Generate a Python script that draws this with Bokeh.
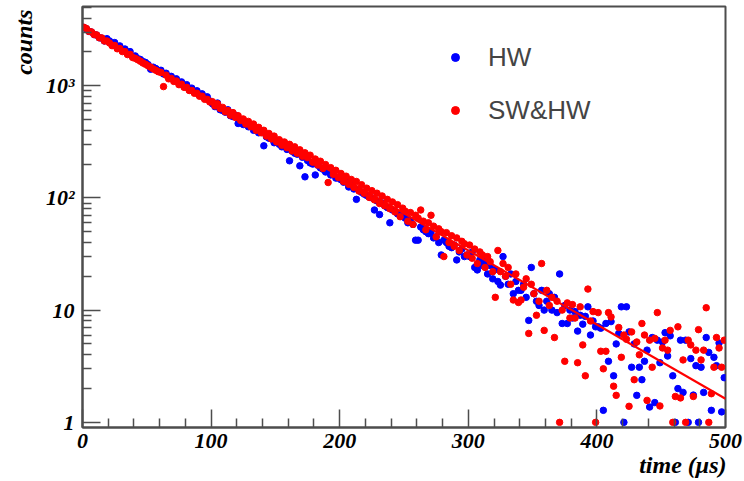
from bokeh.plotting import figure
from bokeh.models import FixedTicker, Legend, LegendItem, Title
from bokeh.embed import file_html
from bokeh.resources import INLINE

# bin centres (µs)
time_us = list(range(1, 500, 2))

# HW (blue)
hw = [
    3300, 3210, 3040, 3000, 2850, 2820, 2670, 2650, 2500, 2620,
    2500, 2330, 2420, 2180, 2260, 2060, 2120, 1930, 2010, 1820,
    1840, 1740, 1710, 1640, 1610, 1540, 1400, 1460, 1420, 1370,
    1370, 1270, 1290, 1190, 1210, 1120, 1150, 1050, 1080, 985,
    1020, 925, 950, 875, 900, 825, 845, 770, 795, 730,
    690, 650, 700, 610, 600, 580, 610, 540, 530, 545,
    460, 490, 450, 470, 430, 440, 400, 410, 380, 395,
    291, 350, 340, 335, 310, 315, 300, 285, 290, 270,
    214, 260, 250, 245, 193, 230, 154, 215, 205, 200,
    160, 195, 185, 180, 170, 175, 160, 163, 150, 150,
    145, 138, 140, 125, 130, 120, 97, 118, 112, 108,
    105, 102, 100, 78, 94, 71, 90, 85, 82, 60,
    78, 76, 72, 70, 68, 66, 60, 63, 58, 42,
    42, 55, 52, 50, 48, 50, 44, 45, 40, 31,
    42, 40, 37, 36, 38, 28, 33, 35, 30, 31,
    30, 33, 24, 22.8, 28, 25, 27, 21, 25, 19,
    23, 18, 16.7, 30, 20, 17, 21, 14, 18, 15,
    15, 17, 13, 8.1, 24, 14, 12, 11, 15, 10,
    12, 14, 10, 13, 9.5, 21, 7.6, 11, 7.6, 10,
    8.5, 9.7, 6.5, 9.0, 7.5, 8.8, 10.7, 6.0, 8.0, 7.1,
    7.1, 6.9, 1.28, 7.6, 3.5, 7.9, 2.6, 5.0, 6.2, 10.7,
    1.0, 10.7, 6.4, 3.1, 5.0, 1.74, 3.1, 2.4, 3.5, 4.4,
    1.37, 5.7, 1.5, 5.4, 3.4, 5.2, 6.3, 3.9, 5.9, 2.6,
    1.0, 2.0, 5.4, 1.85, 5.4, 1.0, 3.7, 1.75, 3.2, 1.0,
    3.1, 1.85, 5.7, 4.2, 1.28, 3.8, 3.2, 5.1, 1.24, 2.5,
]

# SW&HW (red)
swhw = [
    3310, 3230, 3040, 3010, 2850, 2830, 2670, 2660, 2500, 2500,
    2400, 2270, 2280, 2130, 2140, 2010, 2010, 1890, 1900, 1780,
    1750, 1700, 1650, 1590, 1550, 1500, 1460, 1410, 1370, 1330,
    1310, 980, 1240, 1150, 1160, 1090, 1100, 1020, 1030, 965,
    965, 905, 905, 855, 855, 805, 805, 755, 755, 715,
    720, 660, 690, 625, 640, 585, 600, 545, 575, 520,
    540, 490, 505, 455, 480, 430, 455, 400, 425, 380,
    400, 355, 375, 335, 355, 315, 330, 295, 315, 280,
    300, 262, 285, 250, 268, 235, 252, 228, 240, 208,
    222, 196, 212, 183, 198, 137, 186, 162, 176, 152,
    165, 140, 156, 132, 146, 124, 140, 115, 131, 110,
    122, 101, 116, 96, 110, 89, 104, 85, 97, 80,
    92, 75, 87, 68, 81, 76, 62, 74, 58, 70,
    66, 78, 62, 52, 60, 70, 56, 45, 53, 50,
    30, 49, 40, 46, 37, 44, 34, 41, 39, 31,
    38, 29, 35, 26, 33, 31, 24, 30, 27, 22,
    13, 34, 22, 26, 20, 24, 17, 12.3, 21, 11.7,
    12.3, 16, 19, 6.2, 17, 14, 9, 12, 26, 6.6,
    15, 11, 13, 5.7, 12, 1.0, 10, 3.5, 11.6, 8.5,
    11.2, 8.5, 3.4, 10.7, 4.9, 2.6, 15.4, 8, 9.7, 1.0,
    9.5, 4.3, 3.0, 4.3, 9.5, 8.7, 2.1, 1.74, 7.0, 3.8,
    6.0, 5.5, 1.39, 6.4, 2.4, 5.2, 4.0, 7.6, 6.0, 1.57,
    5.4, 3.1, 5.6, 9.5, 1.4, 4.6, 5.4, 4.4, 6.6, 1.0,
    1.7, 7.1, 1.65, 3.6, 1.0, 5.4, 4.9, 1.7, 4.4, 6.7,
    3.6, 4.4, 10.5, 1.0, 1.8, 3.1, 5.7, 4.6, 3.1, 5.4,
]

# exponential fit (end points)
fit_t = [0, 500]
fit_counts = [3273, 1.62]

x_major = [0, 100, 200, 300, 400, 500]
x_minor = [v for v in range(0, 501, 20) if v % 100 != 0]
y_major = [1, 10, 100, 1000]
y_major_labels = ["1", "10", "10\u00b2", "10\u00b3"]
y_minor = [m * d for d in (1, 10, 100, 1000) for m in range(2, 10) if m * d < 5070]

AX = "#4d4d4d"
SERIF = "Liberation Serif"

p = figure(width=744, height=481, x_range=(0, 500), y_range=(0.90, 5070),
           y_axis_type="log", output_backend="svg", toolbar_location=None,
           min_border_left=82, min_border_right=19, min_border_top=6,
           min_border_bottom=54)
p.xgrid.visible = False
p.ygrid.visible = False
p.outline_line_color = AX
p.outline_line_width = 2
p.background_fill_color = "white"
p.border_fill_color = "white"

p.xaxis.ticker = FixedTicker(ticks=x_major, minor_ticks=x_minor)
p.yaxis.ticker = FixedTicker(ticks=y_major, minor_ticks=y_minor)
p.yaxis.major_label_overrides = dict(zip(y_major, y_major_labels))

for ax in (p.xaxis[0], p.yaxis[0]):
    ax.axis_line_color = AX
    ax.axis_line_width = 2
    ax.major_tick_in = 18
    ax.major_tick_out = 0
    ax.minor_tick_in = 9
    ax.minor_tick_out = 0
    ax.major_tick_line_color = AX
    ax.minor_tick_line_color = AX
    ax.major_tick_line_width = 1.5
    ax.minor_tick_line_width = 1.5
    ax.major_label_text_font = SERIF
    ax.major_label_text_font_style = "bold italic"
    ax.major_label_text_font_size = "22px"
    ax.major_label_text_color = "black"
p.xaxis.major_label_standoff = 6
p.yaxis.major_label_standoff = 8

rb = p.scatter(time_us, hw, size=6.5, marker="circle", color="#0000ff")
rr = p.scatter(time_us, swhw, size=6.5, marker="circle", color="#ff0000")
p.line(fit_t, fit_counts, line_color="#ff0000", line_width=2.2)

legend = Legend(items=[LegendItem(label="HW", renderers=[rb]),
                       LegendItem(label="SW&HW", renderers=[rr])],
                location=(363, 301), padding=0, margin=0, spacing=21,
                glyph_width=20, glyph_height=32, label_height=32,
                label_standoff=23, label_text_font="Liberation Sans",
                label_text_font_size="26px", border_line_color=None,
                background_fill_alpha=0)
p.add_layout(legend)

p.add_layout(Title(text="counts", align="right", offset=3, standoff=12,
                   text_font=SERIF, text_font_style="bold italic",
                   text_font_size="24px", text_color="black"), "left")
p.add_layout(Title(text="time (\u03bcs)", align="right", offset=-1, standoff=-2,
                   text_font=SERIF, text_font_style="bold italic",
                   text_font_size="24px", text_color="black"), "below")

html = file_html(p, INLINE, title="counts vs time")
open("out.html", "w").write(html)
